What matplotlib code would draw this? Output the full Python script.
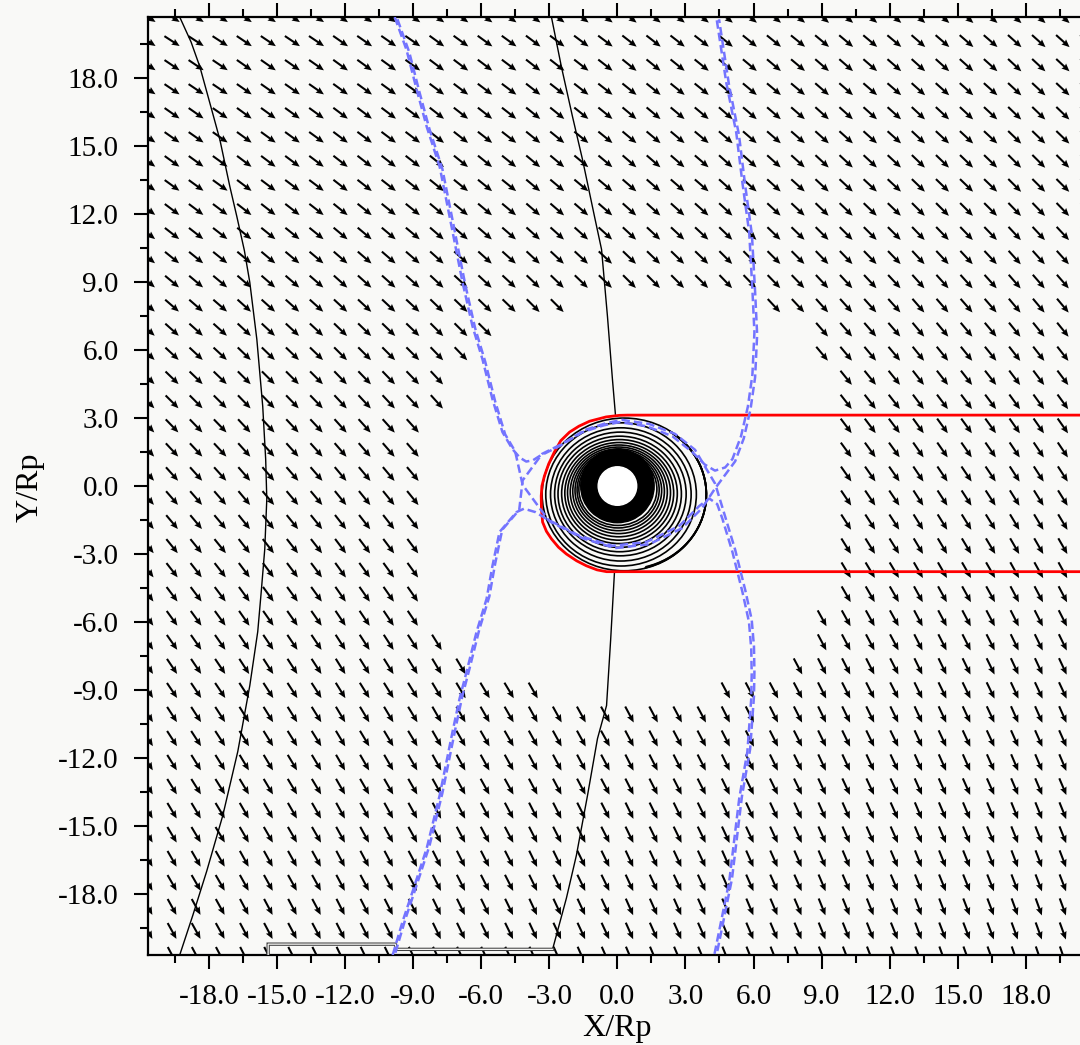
import numpy as np
import matplotlib
matplotlib.use("Agg")
import matplotlib.pyplot as plt
from matplotlib.patches import Ellipse, Arc, Annulus
from matplotlib.ticker import MultipleLocator, FormatStrFormatter

BG = "#f9f9f7"
BLUE = "#7474ff"

# field direction per grid row on the left edge (degrees, top row first)
row_angle = [-33, -33, -34, -34, -35, -35, -36, -36, -37, -38,
             -39, -40, -41, -42, -43, -44, -45, -46, -47, -48,
             -49, -50, -51, -52, -53, -54, -55, -56, -56, -57,
             -57, -58, -58, -59, -59, -60, -60, -61, -61, -62]
# extra turn of the field going from left to right (degrees per column)
col_shift = [0, 0, 0, 0, -1, -1, -1, -1, -2, -2, -2, -2, -3, -3, -3, -3, -4, -4, -4, -4,
             -5, -5, -5, -5, -6, -6, -6, -6, -7, -7, -7, -7, -8, -8, -8, -8, -9, -9, -9, -9]
arrow_len = 0.8

# rows with no vectors drawn around the planet: first/last empty column
gap_rows = [12, 13, 14, 15, 16, 17, 18, 19, 20, 21, 22, 23, 24, 25, 26, 27, 28]
gap_start = [18, 15, 14, 13, 13, 12, 12, 12, 12, 12, 12, 12, 12, 12, 13, 14, 17]
gap_end = [25, 27, 27, 28, 28, 28, 28, 28, 28, 28, 28, 28, 28, 27, 27, 26, 23]

# thin field lines
lineA_x = [-19.30, -18.80, -18.41, -17.89, -17.53, -17.09, -16.78, -16.45, -16.21, -15.90, -15.64,
           -15.51, -15.46, -15.55, -15.70, -15.86, -16.21, -16.74, -17.40, -18.11, -18.72, -19.30]
lineA_y = [20.70, 19.60, 18.50, 16.61, 15.29, 13.22, 11.89, 10.40, 8.99, 6.48, 3.52,
           1.19, -0.57, -2.78, -4.60, -6.43, -8.81, -11.72, -14.54, -17.00, -18.94, -20.70]
lineB_top_x = [-2.91, -2.47, -1.98, -1.54, -1.01, -0.70, -0.44, -0.22, -0.09]
lineB_top_y = [20.70, 18.50, 16.30, 14.41, 11.89, 10.44, 7.49, 4.71, 3.17]
lineB_bot_x = [-0.13, -0.30, -0.48, -0.88, -1.32, -1.81, -2.25, -2.86]
lineB_bot_y = [-3.79, -6.80, -9.69, -11.15, -13.66, -16.30, -18.19, -20.45]
base_x = [-2.86, -9.72, -9.80, -15.40, -15.40]
base_y = [-20.45, -20.45, -20.22, -20.22, -20.70]

# magnetopause-like boundary
red_x = [22.0, 0.45, 0.09, -0.50, -1.23, -1.70, -2.11, -2.50, -2.78, -3.03, -3.22, -3.33, -3.36,
         -3.35, -3.30, -3.13, -2.91, -2.60, -2.25, -1.80, -1.37, -0.90, -0.48, 22.0]
red_y = [3.13, 3.13, 3.12, 3.05, 2.86, 2.64, 2.38, 2.00, 1.50, 0.98, 0.44, 0.00, -0.44,
         -1.00, -1.59, -2.00, -2.33, -2.70, -3.00, -3.30, -3.52, -3.70, -3.78, -3.78]

# orbit rings
ring_rx = [3.62, 3.32, 3.10, 2.90, 2.72, 2.55, 2.40, 2.27, 2.14, 2.02, 1.91, 1.81, 1.72]
ring_ry = [3.37, 3.16, 2.94, 2.73, 2.55, 2.38, 2.23, 2.10, 1.98, 1.87, 1.77, 1.68, 1.60]
ring_cx = [0.30, 0.16, 0.15, 0.13, 0.10, 0.09, 0.08, 0.07, 0.06, 0.05, 0.04, 0.03, 0.02]
ring_cy = [-0.37, -0.37, -0.37, -0.35, -0.35, -0.33, -0.31, -0.29, -0.26, -0.23, -0.20, -0.17, -0.14]
core_r = 1.62
hole_r = 0.85

# separatrix branches
ul = [(-9.82, 20.7), (-9.30, 19.25), (-8.85, 17.49), (-8.41, 15.86), (-7.84, 14.10), (-7.40, 11.89),
      (-6.83, 8.99), (-6.39, 7.05), (-5.95, 5.59), (-5.51, 3.83), (-5.07, 2.38), (-4.63, 1.63)]
ll = [(-4.45, -1.15), (-5.20, -2.03), (-5.51, -3.52), (-5.77, -4.98), (-6.21, -6.43), (-6.65, -8.19),
      (-6.96, -9.38), (-7.27, -10.84), (-7.84, -13.66), (-8.41, -15.99), (-9.03, -17.89),
      (-9.47, -19.21), (-9.91, -20.7)]
ot = [(-3.44, 1.32), (-2.56, 1.76), (-1.54, 2.38), (-0.60, 2.68), (0.09, 2.82), (1.28, 2.64),
      (2.42, 2.20), (3.30, 1.50)]
uc = [(-3.13, -1.45), (-1.67, -2.20), (-0.22, -2.64), (1.28, -2.47), (2.73, -1.76), (3.61, -0.88)]
ur = [(4.36, 20.7), (4.80, 17.80), (5.24, 15.59), (5.51, 13.39), (5.81, 11.19), (5.95, 8.68),
      (6.04, 6.78), (5.95, 4.90), (5.75, 3.50), (5.45, 2.20), (5.07, 1.19)]
lr = [(4.63, -1.45), (5.07, -2.91), (5.51, -4.67), (5.80, -6.00), (5.90, -7.18), (5.92, -8.30),
      (5.90, -9.38), (5.73, -11.72), (5.37, -13.79), (4.93, -17.44), (4.27, -20.7)]
x_left = (-4.30, 0.15)
x_right = (4.19, 0.0)

fig = plt.figure(figsize=(10.8, 10.45), dpi=100, facecolor=BG)
ax = fig.add_axes([0.137, 0.0861, 0.8694, 0.8976], facecolor=BG)
lim = 20.7
ax.set_xlim(-lim, lim)
ax.set_ylim(-lim, lim)

# vector field on a 40x40 grid
n = 40
gx = np.linspace(-lim, lim, n)
gy = np.linspace(lim, -lim, n)
X, Y = np.meshgrid(gx, gy)
ang = np.deg2rad(np.add.outer(np.array(row_angle, float), np.array(col_shift, float)))
U = np.cos(ang) * arrow_len
V = np.sin(ang) * arrow_len
mask = np.zeros((n, n), dtype=bool)
for r, c0, c1 in zip(gap_rows, gap_start, gap_end):
    mask[r, c0:c1 + 1] = True
U = np.ma.masked_array(U, mask)
V = np.ma.masked_array(V, mask)
ax.quiver(X, Y, U, V, angles="xy", scale_units="xy", scale=1, pivot="middle",
          color="black", width=0.0022, headwidth=3.3, headlength=3.8, headaxislength=3.4,
          zorder=2)

# field lines
ax.plot(lineA_x, lineA_y, color="black", lw=1.0, zorder=3)
ax.plot(lineB_top_x, lineB_top_y, color="black", lw=1.0, zorder=3)
ax.plot(lineB_bot_x, lineB_bot_y, color="black", lw=1.0, zorder=3)
ax.plot(base_x, base_y, color="0.25", lw=2.4, zorder=3, solid_joinstyle="miter")
ax.plot(base_x, base_y, color=BG, lw=0.9, zorder=3, solid_joinstyle="miter")

# orbits around the planet
ax.add_patch(Annulus((0, 0), core_r, core_r - hole_r, color="black", zorder=4))
for cx, cy, rx, ry in zip(ring_cx, ring_cy, ring_rx, ring_ry):
    ax.add_patch(Ellipse((cx, cy), 2 * rx, 2 * ry, fill=False, ec="black", lw=1.2, zorder=4))
for k in range(3):
    ax.add_patch(Arc((ring_cx[0] + 0.03 * (k + 1), ring_cy[0]), 2 * ring_rx[0] - 0.06 * (k + 1),
                     2 * ring_ry[0] - 0.05 * (k + 1), theta1=-75, theta2=55,
                     ec="black", lw=1.3, zorder=4))
ax.add_patch(Ellipse((0, 0), 2 * hole_r, 2 * hole_r, color="white", zorder=5))

# boundary
ax.plot(red_x, red_y, color="red", lw=2.0, zorder=6)

# separatrices (each branch shows up twice, slightly offset)
def path(*parts):
    pts = [p for part in parts for p in part]
    return np.array(pts)

p1 = path(ul, [(-4.30, 1.25), (-4.02, 1.08), (-3.72, 1.14)], ot,
          [(3.85, 0.95), (4.30, 0.68), (4.75, 0.82)], ur[::-1])
p2 = path(ll[::-1], [(-4.12, -1.00), (-3.62, -1.15)], uc, [(4.05, -0.55), (4.40, -0.80)], lr)
p3 = path(ul, [x_left], uc, [x_right], ur[::-1])
p4 = path(ll[::-1], [x_left], ot, [x_right], lr)
for p, off in ((p1, (0, 0)), (p2, (0, 0)), (p3, (0.12, -0.10)), (p4, (0.12, 0.10))):
    ax.plot(p[:, 0] + off[0], p[:, 1] + off[1], color=BLUE, lw=1.8,
            dashes=(3.4, 1.6), zorder=7)

# axes styling
for s in ax.spines.values():
    s.set_linewidth(1.6)
ax.xaxis.set_minor_locator(MultipleLocator(1.5))
ax.yaxis.set_minor_locator(MultipleLocator(1.5))
ax.set_xticks(np.arange(-18, 19, 3))
ax.set_yticks(np.arange(-18, 19, 3))
ax.xaxis.set_major_formatter(FormatStrFormatter("%.1f"))
ax.yaxis.set_major_formatter(FormatStrFormatter("%.1f"))
ax.tick_params(which="both", direction="out", top=True, right=True, width=1.5,
               labelsize=21, pad=11)
ax.tick_params(which="major", length=10)
ax.tick_params(which="minor", length=6)
for lbl in ax.get_xticklabels() + ax.get_yticklabels():
    lbl.set_family("Liberation Serif")

fig.text(0.571, 0.016, "X/Rp", family="Liberation Serif", fontsize=23, ha="center", va="center")
fig.text(0.028, 0.534, "Y/Rp", family="Liberation Serif", fontsize=23, ha="center", va="center",
         rotation=90)

fig.savefig("out.png", dpi=100, facecolor=BG)
